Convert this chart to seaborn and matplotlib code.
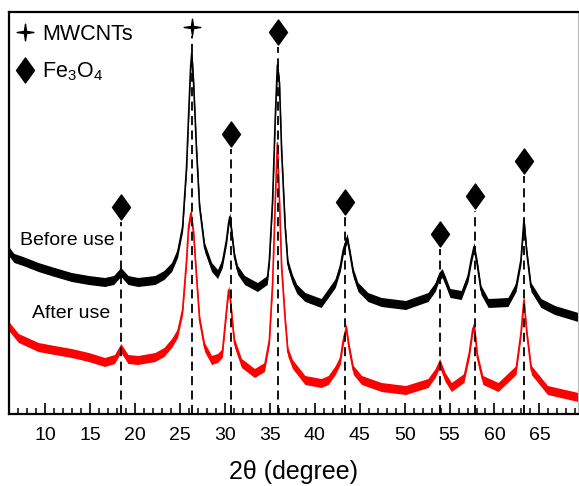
import numpy as np
import pandas as pd
import matplotlib
matplotlib.use("Agg")
import matplotlib.pyplot as plt
from matplotlib.path import Path
from matplotlib.lines import Line2D
import seaborn as sns

# ---------------- data ----------------
# 2theta positions (degree) and intensity (a.u.) of the "Before use" pattern
before_x = [6.0, 6.5, 7.5, 9.2, 11.0, 12.9, 14.8, 16.6, 17.6, 18.4, 19.2, 20.3, 22.2, 23.2,
            24.06, 24.72, 25.28, 25.72, 25.94, 26.17, 26.3, 26.5, 26.83, 27.17, 27.72, 28.5,
            29.17, 29.7, 30.17, 30.4, 30.53, 30.72, 31.06, 31.4, 32.17, 33.6, 34.7, 34.94,
            35.3, 35.6, 35.83, 36.06, 36.3, 36.7, 37.0, 37.5, 38.0, 38.9, 40.7, 41.5, 42.28,
            42.83, 43.17, 43.6, 43.9, 44.28, 44.8, 45.9, 47.4, 50.1, 52.6, 53.4, 53.8, 54.17,
            54.5, 55.05, 56.3, 57.06, 57.4, 57.72, 58.06, 58.5, 59.3, 61.5, 62.4, 62.95,
            63.28, 63.6, 64.06, 65.17, 66.7, 69.3]
before_y = [162, 156, 153, 147, 142, 137, 134, 132, 134, 142, 134, 132, 134, 139,
            147, 161, 187, 247, 297, 347, 361, 331, 264, 207, 167, 147,
            140, 151, 174, 191, 197, 184, 157, 144, 134, 127, 134, 154,
            214, 297, 349, 331, 264, 187, 150, 135, 125, 117, 111, 121, 131,
            147, 164, 176, 161, 141, 127, 117, 112, 109, 117, 127, 137, 141,
            134, 121, 119, 137, 154, 167, 151, 124, 111, 112, 127, 154,
            194, 161, 127, 111, 104, 97]

# 2theta positions (degree) and intensity (a.u.) of the "After use" pattern
after_x = [6.0, 7.0, 9.2, 11.0, 12.9, 14.8, 16.6, 17.7, 18.4, 19.2, 20.3, 22.2, 23.2, 24.06,
           24.72, 25.28, 25.72, 25.94, 26.2, 26.5, 26.83, 27.17, 27.72, 28.5, 29.17, 29.7,
           30.06, 30.28, 30.4, 30.6, 30.83, 31.06, 31.83, 33.28, 34.39, 34.94, 35.3, 35.6,
           35.83, 36.06, 36.3, 36.7, 37.0, 37.5, 38.9, 40.7, 41.5, 42.28, 42.83, 43.17, 43.5,
           43.8, 44.28, 45.2, 47.4, 50.1, 52.6, 53.4, 53.9, 54.5, 55.2, 56.6, 57.2, 57.6,
           57.8, 58.1, 58.7, 60.4, 62.4, 62.95, 63.28, 63.6, 64.1, 65.9, 69.3]
after_y = [87, 76, 67, 64, 61, 57, 52, 55, 66, 55, 54, 57, 62, 71,
           81, 104, 154, 187, 201, 181, 137, 94, 67, 54, 56, 61,
           94, 114, 124, 114, 91, 71, 51, 41, 47, 74, 131, 214,
           271, 214, 147, 94, 62, 50, 34, 31, 34, 44, 54, 74, 86,
           67, 44, 34, 27, 24, 31, 41, 51, 37, 27, 36, 61, 86,
           84, 57, 34, 27, 44, 81, 114, 81, 44, 24, 17]

# peak assignments: position (degree) and height of the symbol (a.u.)
fe3o4_pos = [18.4, 30.64, 35.95, 43.35, 53.98, 57.8, 63.28]
fe3o4_mark = [207, 280, 382, 212, 180, 218, 253]
mwcnt_pos = [26.3]
mwcnt_mark = [387]

noise_before = 4.5   # half width of the noise band (a.u.)
noise_after = 4.5

x_ticks = [10, 15, 20, 25, 30, 35, 40, 45, 50, 55, 60, 65]
series_labels = ["Before use", "After use"]
legend_labels = ["MWCNTs", "Fe$_3$O$_4$"]

# ---------------- style ----------------
sns.set_theme(style="white")
plt.rcParams["font.family"] = ["Liberation Sans", "DejaVu Sans"]
plt.rcParams["mathtext.fontset"] = "custom"
plt.rcParams["mathtext.rm"] = "Liberation Sans"
plt.rcParams["mathtext.it"] = "Liberation Sans"
plt.rcParams["mathtext.default"] = "regular"
plt.rcParams["text.color"] = "black"
plt.rcParams["axes.labelcolor"] = "black"
plt.rcParams["xtick.color"] = "black"

diamond = Path([(0, 1), (0.72, 0), (0, -1), (-0.72, 0), (0, 1)],
               [Path.MOVETO, Path.LINETO, Path.LINETO, Path.LINETO, Path.CLOSEPOLY])
star = Path([(0, 1), (0.13, 0.13), (1, 0), (0.13, -0.13), (0, -1), (-0.13, -0.13),
             (-1, 0), (-0.13, 0.13), (0, 1)],
            [Path.MOVETO] + [Path.LINETO] * 7 + [Path.CLOSEPOLY])

fig = plt.figure(figsize=(5.79, 4.86), dpi=100)
ax = fig.add_axes([9 / 579, 72 / 486, 569 / 579, 402 / 486])

df = pd.concat([
    pd.DataFrame({"x": before_x, "y": before_y, "s": series_labels[0]}),
    pd.DataFrame({"x": after_x, "y": after_y, "s": series_labels[1]}),
])
sns.lineplot(data=df, x="x", y="y", hue="s", palette=["black", "#ff0000"],
             linewidth=1.2, legend=False, ax=ax, sort=False)
bx, by = np.array(before_x), np.array(before_y)
axx, ayy = np.array(after_x), np.array(after_y)
ax.fill_between(bx, by - noise_before, by + noise_before, color="black", lw=0)
ax.fill_between(axx, ayy - noise_after, ayy + noise_after, color="#ff0000", lw=0)

# dashed guide lines and symbols
marker_h = 13
ax.vlines(fe3o4_pos, 0, np.array(fe3o4_mark) - marker_h - 2, colors="black",
          linestyles=(0, (5, 3)), linewidth=1.3, zorder=5)
ax.vlines(mwcnt_pos, 0, np.array(mwcnt_mark) - 9, colors="black",
          linestyles=(0, (5, 3)), linewidth=1.3, zorder=5)
ax.plot(fe3o4_pos, fe3o4_mark, linestyle="none", marker=diamond, markersize=18,
        color="black", zorder=6, clip_on=False)
ax.plot(mwcnt_pos, mwcnt_mark, linestyle="none", marker=star, markersize=12,
        color="black", zorder=6, clip_on=False)

# series labels
ax.text(17.75, 414 - 240, series_labels[0], ha="right", va="center", fontsize=14, color="black")
ax.text(17.2, 414 - 313, series_labels[1], ha="right", va="center", fontsize=14, color="black")

# legend
handles = [Line2D([], [], linestyle="none", marker=star, markersize=12, color="black"),
           Line2D([], [], linestyle="none", marker=diamond, markersize=18, color="black")]
ax.legend(handles, legend_labels, loc="upper left", bbox_to_anchor=(0.0, 0.99),
          frameon=False, fontsize=15.5,
          handlelength=0.8, handletextpad=0.4, labelspacing=0.75, borderaxespad=0.0,
          borderpad=0.35, labelcolor="black")

# axes
ax.set_xlim(5.95, 69.3)
ax.set_ylim(0, 402)
ax.set_xticks(x_ticks)
ax.set_xticks(np.arange(6, 70, 1), minor=True)
ax.set_yticks([])
ax.tick_params(axis="x", which="major", direction="in", length=8, width=1.2,
               labelsize=14, pad=9, bottom=True, color="black", labelcolor="black")
ax.tick_params(axis="x", which="minor", direction="in", length=4.5, width=1.1,
               bottom=True, color="black")
ax.set_xlabel("2\u03b8 (degree)", fontsize=18, labelpad=12, color="black")
ax.set_ylabel("")
for side in ["left", "bottom", "top"]:
    ax.spines[side].set_visible(True)
    ax.spines[side].set_color("black")
    ax.spines[side].set_linewidth(1.6)
ax.spines["right"].set_color("#bbbbbb")
ax.spines["right"].set_linewidth(0.8)

fig.savefig("out.png", dpi=100)
